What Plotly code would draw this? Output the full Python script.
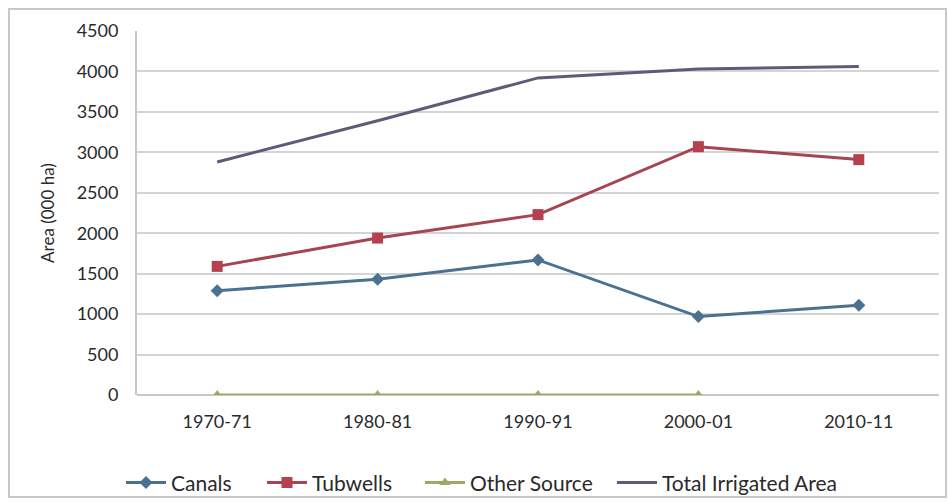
import plotly.graph_objects as go

years = ["1970-71", "1980-81", "1990-91", "2000-01", "2010-11"]
canals = [1290, 1430, 1670, 970, 1110]
tubwells = [1590, 1940, 2230, 3070, 2910]
other_source = [0, 0, 0, 0, None]
total_irrigated = [2880, 3390, 3920, 4030, 4060]
y_ticks = [0, 500, 1000, 1500, 2000, 2500, 3000, 3500, 4000, 4500]
series_names = ["Canals", "Tubwells", "Other Source", "Total Irrigated Area"]

font_family = "Lato, 'Open Sans', sans-serif"
text_color = "#2a2a2a"

fig = go.Figure()
fig.add_trace(go.Scatter(x=years, y=canals, name=series_names[0], mode="lines+markers", legend="legend",
                         line=dict(color="#4a7290", width=3),
                         marker=dict(symbol="diamond", size=10, color="#4a7290")))
fig.add_trace(go.Scatter(x=years, y=tubwells, name=series_names[1], mode="lines+markers", legend="legend2",
                         line=dict(color="#a84450", width=3),
                         marker=dict(symbol="square", size=11, color="#b5404e")))
fig.add_trace(go.Scatter(x=years, y=other_source, name=series_names[2], mode="lines+markers", legend="legend3",
                         line=dict(color="#9aab62", width=3),
                         marker=dict(symbol="triangle-up", size=10, color="#9aab62")))
fig.add_trace(go.Scatter(x=years, y=total_irrigated, name=series_names[3], mode="lines", legend="legend4",
                         line=dict(color="#5c5c78", width=3)))

def leg(px):
    return dict(orientation="h", x=(px - 137) / 802, xanchor="left", yref="container", y=0.038,
                yanchor="middle", font=dict(size=21, color=text_color), itemwidth=40,
                bgcolor="rgba(0,0,0,0)")

fig.update_layout(
    width=948, height=502,
    margin=dict(l=137, r=9, t=31, b=107, autoexpand=False),
    paper_bgcolor="white", plot_bgcolor="white",
    font=dict(family=font_family, size=18, color=text_color),
    showlegend=True,
    legend=leg(121), legend2=leg(262), legend3=leg(420), legend4=leg(612),
    shapes=[dict(type="rect", xref="paper", yref="paper", x0=-0.1596, x1=1.0087, y0=-0.280, y1=1.0604,
                 line=dict(color="#c8c8c8", width=2), fillcolor="rgba(0,0,0,0)", layer="below")],
)
fig.update_xaxes(type="category", range=[-0.5, 4.5], showgrid=False, showline=False,
                 ticks="", tickfont=dict(size=18, color=text_color), ticklabelstandoff=14,
                 automargin=False)
fig.update_yaxes(range=[0, 4500], tickvals=y_ticks, showgrid=True, gridcolor="#d4d4d4", gridwidth=2,
                 zeroline=True, zerolinecolor="#c8c8c8", zerolinewidth=2,
                 showline=True, linecolor="#c8c8c8", linewidth=2,
                 ticks="", tickfont=dict(size=18, color=text_color), ticklabelstandoff=13,
                 automargin=False,
                 title=dict(text="Area (000 ha)", font=dict(size=17, color=text_color), standoff=18))

fig.write_html("out.html")
